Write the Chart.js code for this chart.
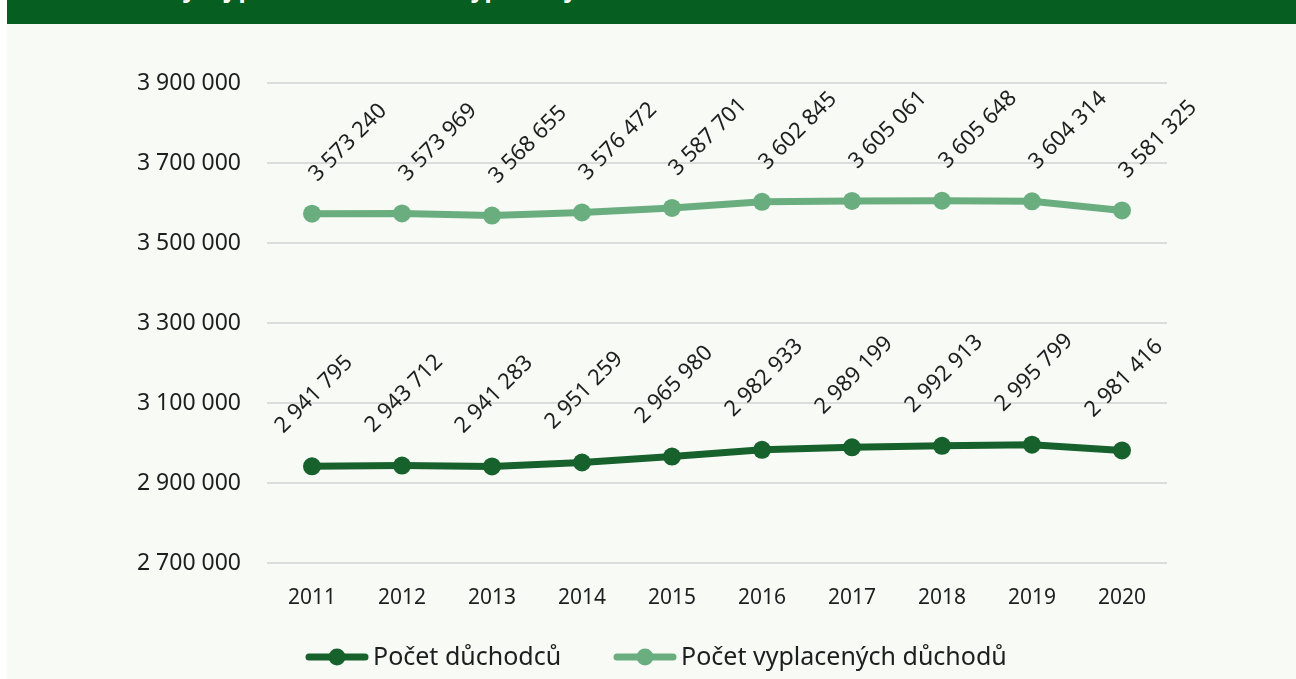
<!DOCTYPE html>
<html>
<head>
<meta charset="utf-8">
<title>Počet důchodců</title>
<script src="https://cdn.jsdelivr.net/npm/chart.js@4.4.0/dist/chart.umd.min.js"></script>
<style>
  html, body { margin: 0; padding: 0; background: #fff; width: 1296px; height: 679px; overflow: hidden; }
  #card { position: absolute; left: 7px; top: 0; width: 1289px; height: 679px; background: #f8faf6; }
  #head { position: absolute; left: 0; top: 0; width: 1289px; height: 24px; background: #075e21; overflow: hidden; }
  #head h1 { position: absolute; left: 160px; top: -27px; margin: 0; font: bold 24px "Noto Sans", sans-serif; line-height: 30px; color: #fff; white-space: nowrap; }
  #wrap { position: absolute; left: 0; top: 24px; width: 1289px; height: 655px; }
  #legend { position: absolute; left: 298px; top: 645px; height: 24px; display: flex; align-items: center; font: 25px "Noto Sans", sans-serif; color: #1e1e1e; }
  #legend .item { display: flex; align-items: center; margin-right: 52px; }
  #legend canvas { margin-right: 4px; }
  #legend span { line-height: 24px; position: relative; top: -2px; }
</style>
</head>
<body>
<div id="card">
  <div id="head"><h1>Vývoj počtu důchodců a vyplacených důchodů</h1></div>
  <div id="wrap"><canvas id="chart" width="1289" height="655"></canvas></div>
  <div id="legend"></div>
</div>
<script>
// data
const years = ['2011', '2012', '2013', '2014', '2015', '2016', '2017', '2018', '2019', '2020'];
const pocetDuchodcu = [2941795, 2943712, 2941283, 2951259, 2965980, 2982933, 2989199, 2992913, 2995799, 2981416];
const pocetVyplacenych = [3573240, 3573969, 3568655, 3576472, 3587701, 3602845, 3605061, 3605648, 3604314, 3581325];
const yMin = 2700000;
const yMax = 3900000;
const yStep = 200000;

const textColor = '#1e1e1e';
const darkGreen = '#17612d';
const lightGreen = '#6aae80';

const fmt = (n) => String(n).replace(/\B(?=(\d{3})+(?!\d))/g, ' ');

// line + dot symbol for the legend
function legendIcon(color) {
  const c = document.createElement('canvas');
  c.width = 64; c.height = 20;
  const g = c.getContext('2d');
  g.strokeStyle = color;
  g.lineWidth = 7;
  g.lineCap = 'round';
  g.beginPath(); g.moveTo(4, 10); g.lineTo(60, 10); g.stroke();
  g.fillStyle = color;
  g.beginPath(); g.arc(32, 10, 8.5, 0, Math.PI * 2); g.fill();
  return c;
}

// rotated value labels above each point
const rotatedLabels = {
  id: 'rotatedLabels',
  afterDatasetsDraw(chart) {
    const ctx = chart.ctx;
    chart.data.datasets.forEach((ds, i) => {
      const meta = chart.getDatasetMeta(i);
      meta.data.forEach((pt, j) => {
        ctx.save();
        ctx.translate(pt.x + ds.labelShift[0], pt.y + ds.labelShift[1]);
        ctx.rotate(-Math.PI / 4);
        ctx.font = '22px "Noto Sans"';
        ctx.fillStyle = textColor;
        ctx.textAlign = 'center';
        ctx.textBaseline = 'middle';
        ctx.fillText(fmt(ds.data[j]), 0, 0);
        ctx.restore();
      });
    });
  }
};

const chart = new Chart(document.getElementById('chart'), {
  type: 'line',
  data: {
    labels: years,
    datasets: [
      {
        label: 'Počet důchodců',
        data: pocetDuchodcu,
        borderColor: darkGreen,
        backgroundColor: darkGreen,
        borderWidth: 7,
        pointRadius: 9,
        pointBorderWidth: 0,
        tension: 0,
        labelShift: [2, -72]
      },
      {
        label: 'Počet vyplacených důchodů',
        data: pocetVyplacenych,
        borderColor: lightGreen,
        backgroundColor: lightGreen,
        borderWidth: 7,
        pointRadius: 9,
        pointBorderWidth: 0,
        tension: 0,
        labelShift: [36, -71]
      }
    ]
  },
  options: {
    responsive: false,
    animation: false,
    layout: { padding: { left: 0, right: 129, top: 59, bottom: 68 } },
    scales: {
      x: {
        offset: true,
        grid: { display: false, drawTicks: false },
        border: { display: false },
        ticks: { color: textColor, font: { family: 'Noto Sans', size: 21 }, padding: 22 },
        afterFit: (s) => { s.height = 48; }
      },
      y: {
        min: yMin,
        max: yMax,
        grid: { color: '#dcdcdc', lineWidth: 2, drawTicks: false },
        border: { display: false },
        ticks: {
          stepSize: yStep,
          color: textColor,
          font: { family: 'Noto Sans', size: 23 },
          padding: 26,
          callback: (v) => fmt(v)
        },
        afterFit: (s) => { s.width = 260; }
      }
    },
    plugins: {
      tooltip: { enabled: false },
      legend: { display: false }
    }
  },
  plugins: [rotatedLabels]
});

// legend built from the chart's datasets
const legendEl = document.getElementById('legend');
chart.data.datasets.forEach((ds) => {
  const item = document.createElement('div');
  item.className = 'item';
  item.appendChild(legendIcon(ds.borderColor));
  const label = document.createElement('span');
  label.textContent = ds.label;
  item.appendChild(label);
  legendEl.appendChild(item);
});
</script>
</body>
</html>
